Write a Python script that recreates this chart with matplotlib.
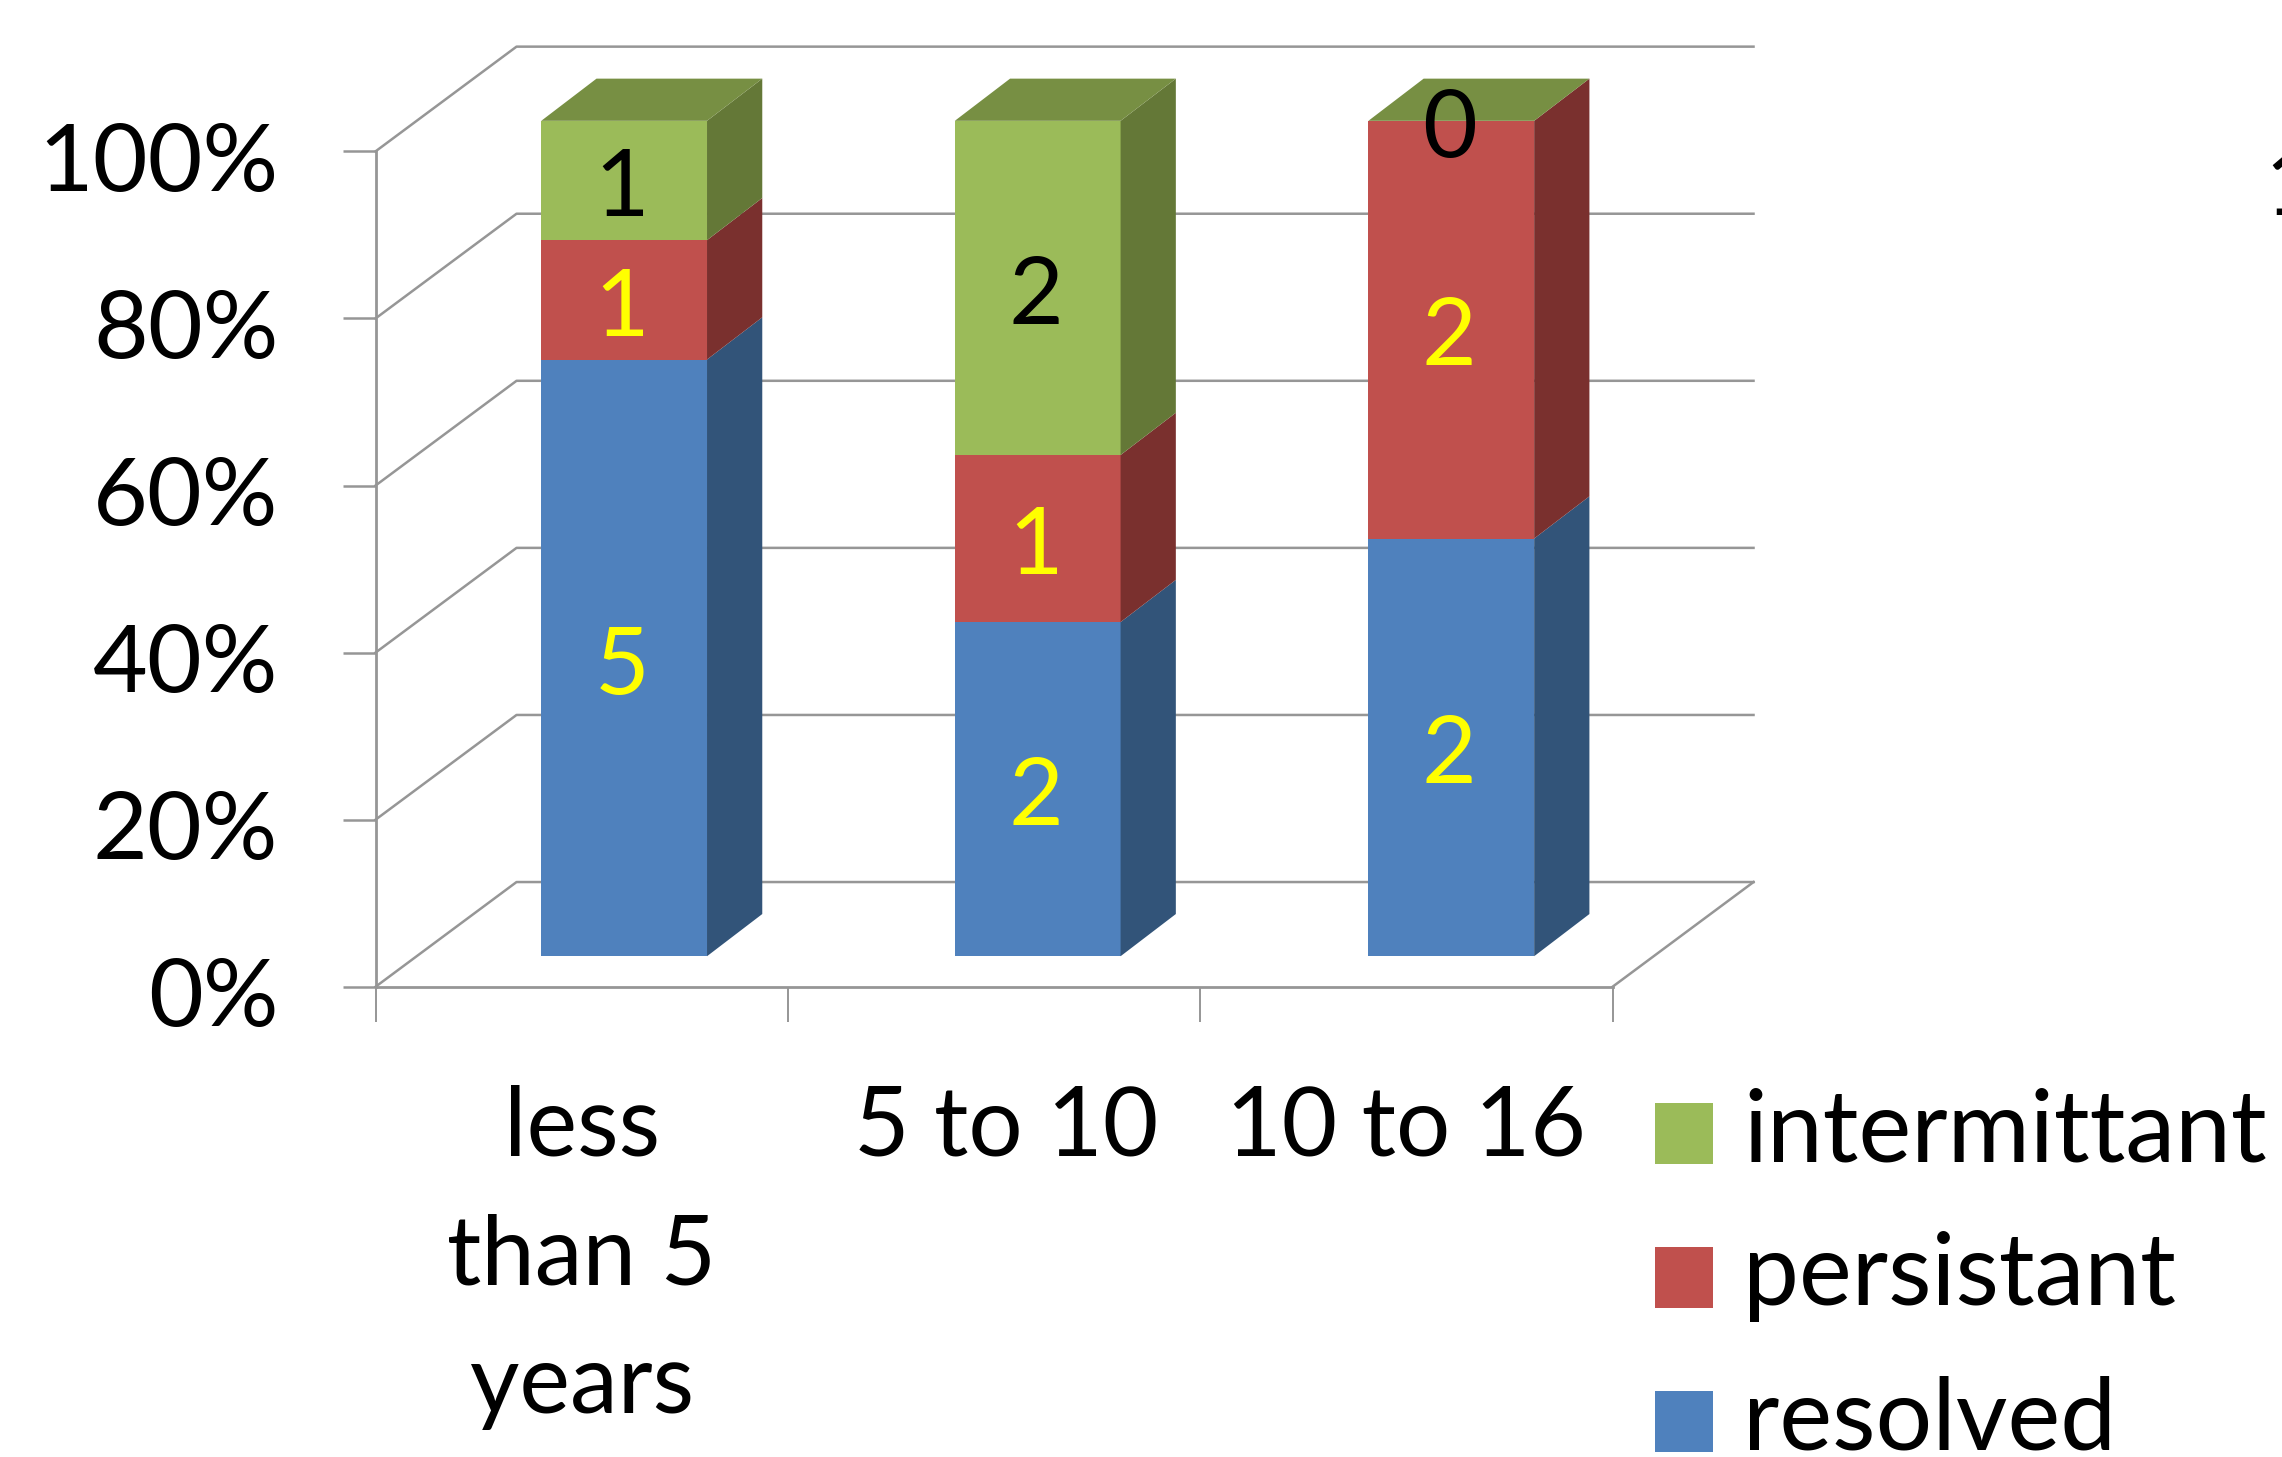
"""Stacked percentage bars with an oblique 3-D look, counts printed on the segments."""
import numpy as np
import matplotlib
matplotlib.use('Agg')
import matplotlib.pyplot as plt
from matplotlib.patches import Polygon, Patch
from matplotlib.transforms import ScaledTranslation

W, H = 2282, 1457

categories = ['less\nthan 5\nyears', '5 to 10', '10 to 16']
series_names = ['resolved', 'persistant', 'intermittant']
resolved = [5, 2, 2]
persistant = [1, 1, 2]
intermittant = [1, 2, 0]
y_ticks = [0, 20, 40, 60, 80, 100]

FRONT = ['#4f81bd', '#c0504d', '#9bbb59']
SIDE = ['#325479', '#7a302e', '#647837']
TOP = ['#3e6797', '#99403d', '#778f43']
LABEL_COLORS = ['#ffff00', '#ffff00', 'black']
GRID = '#969696'

# oblique projection, x in category widths, y in percent
WALL_DX, WALL_DY = 0.342, 12.54
BAR_DX, BAR_DY = 0.134, 5.05
BAR_LEFT, BAR_W, BAR_FLOOR, BAR_STEP = 0.402, 0.402, 3.66, 1.003

plt.rcParams['font.family'] = ['Lato', 'DejaVu Sans']
TICK_FS = 68
CAT_FS = 69
BAR_FS = 68
LEGEND_FS = 72


def main():
    fig = plt.figure(figsize=(W / 100, H / 100), dpi=100)
    ax = fig.add_axes([375.5 / W, 1 - 986.8 / H, 1237 / W, 835.4 / H])
    ax.set_xlim(0, 3)
    ax.set_ylim(0, 100)
    ax.patch.set_visible(False)

    # side wall and back wall gridlines, floor outline
    for y in y_ticks:
        ax.plot([0, WALL_DX, 3 + WALL_DX], [y, y + WALL_DY, y + WALL_DY],
                color=GRID, lw=1.8, clip_on=False, zorder=1)
    ax.plot([3, 3 + WALL_DX], [0, WALL_DY], color=GRID, lw=1.8,
            clip_on=False, zorder=1)

    counts = np.array([resolved, persistant, intermittant], dtype=float)
    shares = 100 * counts / counts.sum(axis=0)
    for i in range(len(categories)):
        x0 = i * BAR_STEP + BAR_LEFT
        x1 = x0 + BAR_W
        base = BAR_FLOOR
        for s in range(len(series_names)):
            top = base + shares[s, i]
            ax.bar(x0, shares[s, i], BAR_W, bottom=base, align='edge',
                   color=FRONT[s], zorder=3 + s, clip_on=False)
            ax.add_patch(Polygon(
                [(x1, base), (x1 + BAR_DX, base + BAR_DY),
                 (x1 + BAR_DX, top + BAR_DY), (x1, top)],
                fc=SIDE[s], ec='none', zorder=3 + s, clip_on=False))
            if s == len(series_names) - 1:
                ax.add_patch(Polygon(
                    [(x0, top), (x0 + BAR_DX, top + BAR_DY),
                     (x1 + BAR_DX, top + BAR_DY), (x1, top)],
                    fc=TOP[s], ec='none', zorder=3 + s, clip_on=False))
            ax.annotate('%d' % counts[s, i],
                        (x0 + BAR_W / 2, base + shares[s, i] / 2),
                        xytext=(-1.5, -7), textcoords='offset points',
                        color=LABEL_COLORS[s] if counts[s, i] else 'black',
                        fontsize=BAR_FS, ha='center', va='center', zorder=10,
                        annotation_clip=False)
            base = top

    ax.spines[['top', 'right']].set_visible(False)
    ax.spines[['left', 'bottom']].set_color(GRID)
    ax.spines[['left', 'bottom']].set_linewidth(2.0)
    ax.set_yticks(y_ticks)
    ax.set_yticklabels(['%d%%' % y for y in y_ticks])
    ax.set_xticks(range(len(categories) + 1))
    ax.set_xticklabels([])
    ax.tick_params(axis='y', length=24, width=1.8, color=GRID, labelsize=TICK_FS, pad=46)
    ax.tick_params(axis='x', length=25, width=1.4, color=GRID)
    drop = ScaledTranslation(0, -4 / 72, fig.dpi_scale_trans)
    for lab in ax.get_yticklabels():
        lab.set_transform(lab.get_transform() + drop)

    # category labels sit under the gaps between the ticks
    for name, x in zip(categories, (582, 1006, 1406)):
        fig.text(x / W, 1 - 1084 / H, name, fontsize=CAT_FS, ha='center', va='top',
                 linespacing=1.58, multialignment='center')

    handles = [Patch(fc=FRONT[s], ec='none', label=series_names[s]) for s in (2, 1, 0)]
    leg = fig.legend(handles=handles, loc='upper left',
                     bbox_to_anchor=(1655 / W, 1 - 1095 / H), frameon=False,
                     fontsize=LEGEND_FS, handlelength=0.58, handleheight=0.56,
                     handletextpad=0.30, labelspacing=0.53, borderpad=0,
                     borderaxespad=0)
    for t in leg.get_texts():
        t.set_y(8)

    # neighbouring chart's label running off the right edge
    fig.text(2264 / W, 1 - 215 / H, '1', fontsize=TICK_FS, ha='left', va='baseline')

    fig.savefig('out.png', dpi=100)
    print('wrote out.png')


if __name__ == '__main__':
    main()
